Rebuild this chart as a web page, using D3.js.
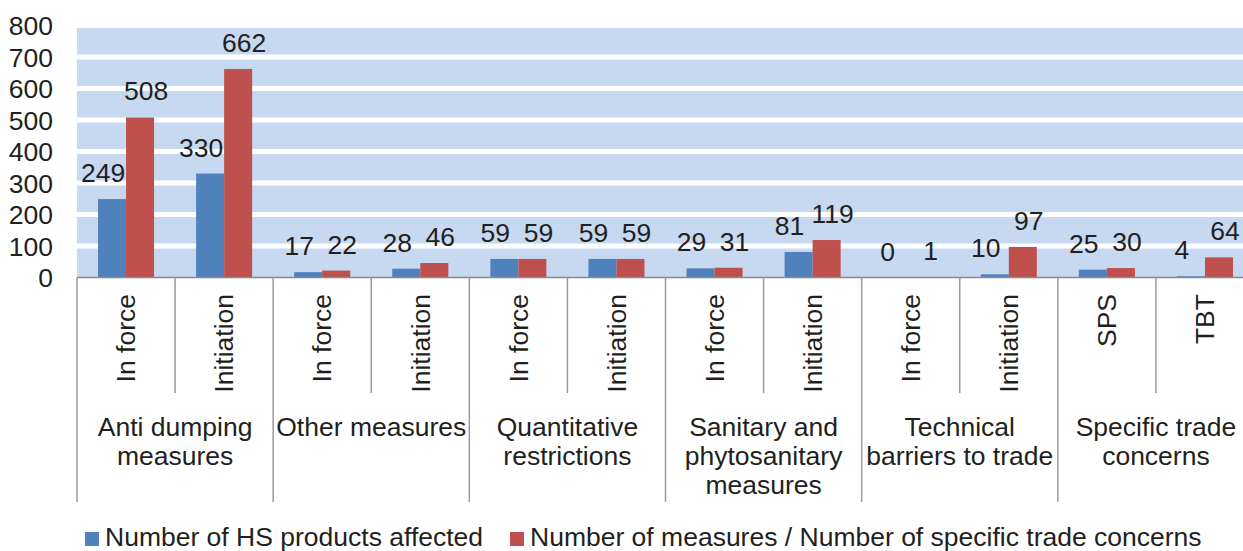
<!DOCTYPE html>
<html>
<head>
<meta charset="utf-8">
<script src="https://cdn.jsdelivr.net/npm/d3@7"></script>
<style>
  html, body { margin: 0; padding: 0; background: #fff; overflow: hidden; }
  svg { display: block; font-family: "Liberation Sans", Arial, sans-serif; }
</style>
</head>
<body>
<svg id="chart" width="1243" height="551"></svg>
<script>
// Sub-categories along the x axis, grouped by measure type
const subLabels = ["In force", "Initiation", "In force", "Initiation", "In force", "Initiation",
                   "In force", "Initiation", "In force", "Initiation", "SPS", "TBT"];
const groupLabels = [
  ["Anti dumping", "measures"],
  ["Other measures"],
  ["Quantitative", "restrictions"],
  ["Sanitary and", "phytosanitary", "measures"],
  ["Technical", "barriers to trade"],
  ["Specific trade", "concerns"]
];
const groupSizes = [2, 2, 2, 2, 2, 2];

// Series values
const hsProducts = [249, 330, 17, 28, 59, 59, 29, 81, 0, 10, 25, 4];
const measureCounts = [508, 662, 22, 46, 59, 59, 31, 119, 1, 97, 30, 64];
const seriesNames = ["Number of HS products affected", "Number of measures / Number of specific trade concerns"];
const seriesColors = ["#4F81BD", "#C0504D"];

const yTicks = [0, 100, 200, 300, 400, 500, 600, 700, 800];

const svg = d3.select("#chart");
const textColor = "#231F20";
const fontSize = 26.5;

const plotLeft = 77, plotRight = 1254, plotTop = 25.5, plotBottom = 277.5;

const x = d3.scaleBand().domain(d3.range(subLabels.length)).range([plotLeft, plotRight]).padding(0);
const x1 = d3.scaleBand().domain([0, 1]).range([0, x.bandwidth()]).paddingInner(0).paddingOuter(0.75);
const y = d3.scaleLinear().domain([0, 800]).range([plotBottom, plotTop]);

// Plot background
svg.append("rect")
  .attr("x", plotLeft).attr("y", y(800))
  .attr("width", plotRight - plotLeft).attr("height", y(0) - y(800))
  .attr("fill", "#C6D9F0");

// White gridlines
svg.append("g").selectAll("line")
  .data(yTicks.filter(d => d > 0))
  .join("line")
  .attr("x1", plotLeft).attr("x2", plotRight)
  .attr("y1", d => y(d)).attr("y2", d => y(d))
  .attr("stroke", "#fff").attr("stroke-width", 5);

// Y axis tick labels
const yAxis = d3.axisLeft(y).tickValues(yTicks).tickSize(0).tickPadding(0);
const yg = svg.append("g").attr("transform", "translate(53,0)").call(yAxis);
yg.select(".domain").remove();
yg.selectAll("text")
  .attr("font-size", fontSize)
  .attr("font-family", "Liberation Sans, Arial, sans-serif")
  .attr("fill", textColor)
  .attr("dy", "0.35em");

// Bars
const series = [hsProducts, measureCounts];
series.forEach((vals, s) => {
  svg.append("g").selectAll("rect")
    .data(vals)
    .join("rect")
    .attr("x", (d, i) => x(i) + x1(s))
    .attr("y", d => y(d))
    .attr("width", x1.bandwidth())
    .attr("height", d => y(0) - y(d))
    .attr("fill", seriesColors[s]);
});

// Value labels, nudged apart so each pair reads clearly
const labelShift = [-9, 6];
series.forEach((vals, s) => {
  svg.append("g").selectAll("text")
    .data(vals)
    .join("text")
    .attr("x", (d, i) => x(i) + x1(s) + x1.bandwidth() / 2 + labelShift[s])
    .attr("y", d => y(d) - 17)
    .attr("text-anchor", "middle")
    .attr("font-size", fontSize)
    .attr("fill", textColor)
    .text(d => d);
});

// Category axis line
svg.append("line")
  .attr("x1", plotLeft).attr("x2", plotRight)
  .attr("y1", plotBottom).attr("y2", plotBottom)
  .attr("stroke", "#898989").attr("stroke-width", 1.5);

// Separators: short ones between sub-categories, long ones between groups
const groupEdges = [0];
groupSizes.forEach(n => groupEdges.push(groupEdges[groupEdges.length - 1] + n));
const boundaries = d3.range(subLabels.length + 1);
svg.append("g").selectAll("line")
  .data(boundaries)
  .join("line")
  .attr("x1", i => plotLeft + i * x.step())
  .attr("x2", i => plotLeft + i * x.step())
  .attr("y1", plotBottom)
  .attr("y2", i => groupEdges.includes(i) ? 502 : 393)
  .attr("stroke", "#9A9A9A").attr("stroke-width", 1.5);

// Rotated sub-category labels
svg.append("g").selectAll("text")
  .data(subLabels)
  .join("text")
  .attr("transform", (d, i) => `translate(${x(i) + x.bandwidth() / 2},294) rotate(-90)`)
  .attr("text-anchor", "end")
  .attr("dy", "0.35em")
  .attr("font-size", fontSize)
  .attr("fill", textColor)
  .text(d => d);

// Group labels
groupLabels.forEach((lines, g) => {
  const cx = plotLeft + (groupEdges[g] + groupEdges[g + 1]) / 2 * x.step();
  const t = svg.append("text")
    .attr("text-anchor", "middle")
    .attr("font-size", fontSize)
    .attr("fill", textColor);
  lines.forEach((ln, k) => {
    t.append("tspan").attr("x", cx).attr("y", 436 + k * 29).text(ln);
  });
});

// Legend
const legendX = [85, 510];
seriesNames.forEach((name, s) => {
  svg.append("rect")
    .attr("x", legendX[s]).attr("y", 532)
    .attr("width", 14).attr("height", 14)
    .attr("fill", seriesColors[s]);
  svg.append("text")
    .attr("x", legendX[s] + 20).attr("y", 546)
    .attr("font-size", fontSize)
    .attr("fill", textColor)
    .text(name);
});
</script>
</body>
</html>
